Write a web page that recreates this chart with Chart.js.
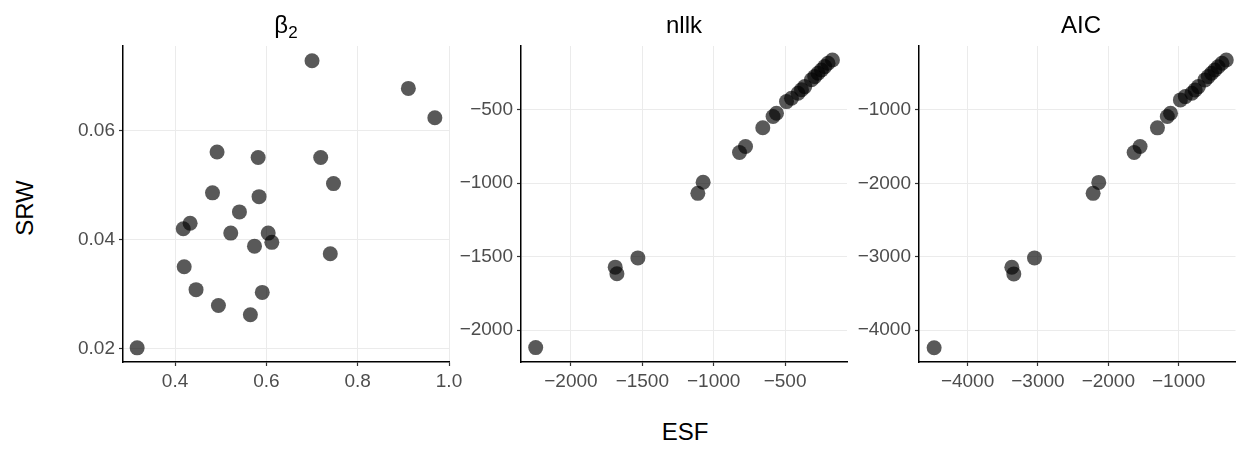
<!DOCTYPE html>
<html>
<head>
<meta charset="utf-8">
<script src="https://cdn.jsdelivr.net/npm/chart.js@4.4.1/dist/chart.umd.min.js"></script>
<style>
  body { margin: 0; background: #fff; }
  #wrap { position: relative; width: 1243px; height: 451px; overflow: hidden; background: #fff;
          font-family: "Liberation Sans", Arial, sans-serif; }
  .box { position: absolute; top: 0; height: 400px; }
  .lbl { position: absolute; font-size: 24px; line-height: 1; color: #000; white-space: nowrap;
         transform: translate(-50%, -50%); }
  .lbl sub { font-size: 17px; vertical-align: -5px; line-height: 0; }
</style>
</head>
<body>
<div id="wrap">
  <div class="box" style="left:63px;width:406px"><canvas id="beta"></canvas></div>
  <div class="box" style="left:451px;width:410px"><canvas id="nllk"></canvas></div>
  <div class="box" style="left:849px;width:394px"><canvas id="aic"></canvas></div>

  <div class="lbl" style="left:286px;top:25px">β<sub>2</sub></div>
  <div class="lbl" style="left:684px;top:25px">nllk</div>
  <div class="lbl" style="left:1081px;top:25px">AIC</div>
  <div class="lbl" style="left:685px;top:432px">ESF</div>
  <div class="lbl" style="left:25px;top:208px;transform:translate(-50%,-50%) rotate(-90deg)">SRW</div>
</div>
<script>
// ---- estimates per run: ESF on x, SRW on y ----
var beta_esf = [0.700, 0.911, 0.969, 0.492, 0.582, 0.719, 0.747, 0.482, 0.584, 0.541, 0.433, 0.418,
                0.522, 0.604, 0.612, 0.574, 0.740, 0.420, 0.446, 0.591, 0.495, 0.565, 0.317];
var beta_srw = [0.0729, 0.0678, 0.0624, 0.0561, 0.0551, 0.0551, 0.0503, 0.0486, 0.0479, 0.0451, 0.0430, 0.0420,
                0.0412, 0.0412, 0.0395, 0.0388, 0.0374, 0.0350, 0.0308, 0.0303, 0.0279, 0.0262, 0.0201];

var nllk_esf = [-2247, -1690, -1678, -1531, -1111, -1074, -819, -777, -656, -584, -560, -490,
                -455, -409, -385, -362, -315, -292, -269, -245, -222, -199, -168];
var nllk_srw = [-2119, -1572, -1617, -1509, -1070, -995, -792, -751, -624, -547, -525, -446,
                -423, -389, -366, -344, -298, -276, -253, -231, -208, -185, -163];

var aic_esf = [-4475, -3371, -3343, -3049, -2216, -2136, -1633, -1549, -1302, -1162, -1116, -976,
               -906, -813, -766, -720, -627, -580, -533, -487, -440, -385, -324];
var aic_srw = [-4239, -3143, -3234, -3016, -2137, -1988, -1580, -1499, -1245, -1091, -1045, -864,
               -819, -773, -728, -683, -592, -547, -501, -456, -412, -365, -320];

// tick labels
var beta_xticks = [0.4, 0.6, 0.8, 1.0];
var beta_yticks = [0.02, 0.04, 0.06];
var nllk_xticks = [-2000, -1500, -1000, -500];
var nllk_yticks = [-2000, -1500, -1000, -500];
var aic_xticks = [-4000, -3000, -2000, -1000];
var aic_yticks = [-4000, -3000, -2000, -1000];

Chart.defaults.font.family = '"Liberation Sans", Arial, sans-serif';
Chart.defaults.color = '#4d4d4d';

function fmt(dec) {
  return function (v) {
    var s = dec == null ? String(Math.abs(v)) : Math.abs(v).toFixed(dec);
    return (v < 0 ? '\u2212' : '') + s;
  };
}

function axis(ticks, min, max, dec, horizontal, size) {
  return {
    type: 'linear',
    min: min,
    max: max,
    afterBuildTicks: function (s) { s.ticks = ticks.map(function (v) { return { value: v }; }); },
    afterFit: function (s) { if (horizontal) s.height = size; else s.width = size; },
    grid: { color: '#ebebeb', lineWidth: 1, drawTicks: true, tickLength: 4, tickColor: '#333', tickWidth: 1.2 },
    border: { display: true, color: '#000', width: 1.5 },
    ticks: { font: { size: 19 }, color: '#4d4d4d', padding: 4, callback: fmt(dec), maxRotation: 0, autoSkip: false }
  };
}

function panel(id, xs, ys, xa, ya, rightPad) {
  var pts = xs.map(function (x, i) { return { x: x, y: ys[i] }; });
  return new Chart(document.getElementById(id), {
    type: 'scatter',
    data: {
      datasets: [{
        data: pts,
        pointRadius: 7.5,
        pointHoverRadius: 7.5,
        backgroundColor: 'rgba(0,0,0,0.65)',
        borderWidth: 0
      }]
    },
    options: {
      responsive: true,
      maintainAspectRatio: false,
      animation: false,
      devicePixelRatio: 1,
      layout: { padding: { top: 46, right: rightPad, bottom: 0, left: 0 } },
      plugins: { legend: { display: false }, tooltip: { enabled: false } },
      scales: { x: xa, y: ya }
    }
  });
}

panel('beta', beta_esf, beta_srw,
      axis(beta_xticks, 0.286, 1.0, 1, true, 38),
      axis(beta_yticks, 0.0175, 0.0756, 2, false, 60), 20);

panel('nllk', nllk_esf, nllk_srw,
      axis(nllk_xticks, -2350, -66, null, true, 38),
      axis(nllk_yticks, -2217, -68, null, false, 70), 14);

panel('aic', aic_esf, aic_srw,
      axis(aic_xticks, -4690, -193, null, true, 38),
      axis(aic_yticks, -4434, -130, null, false, 70), 1);
</script>
</body>
</html>
